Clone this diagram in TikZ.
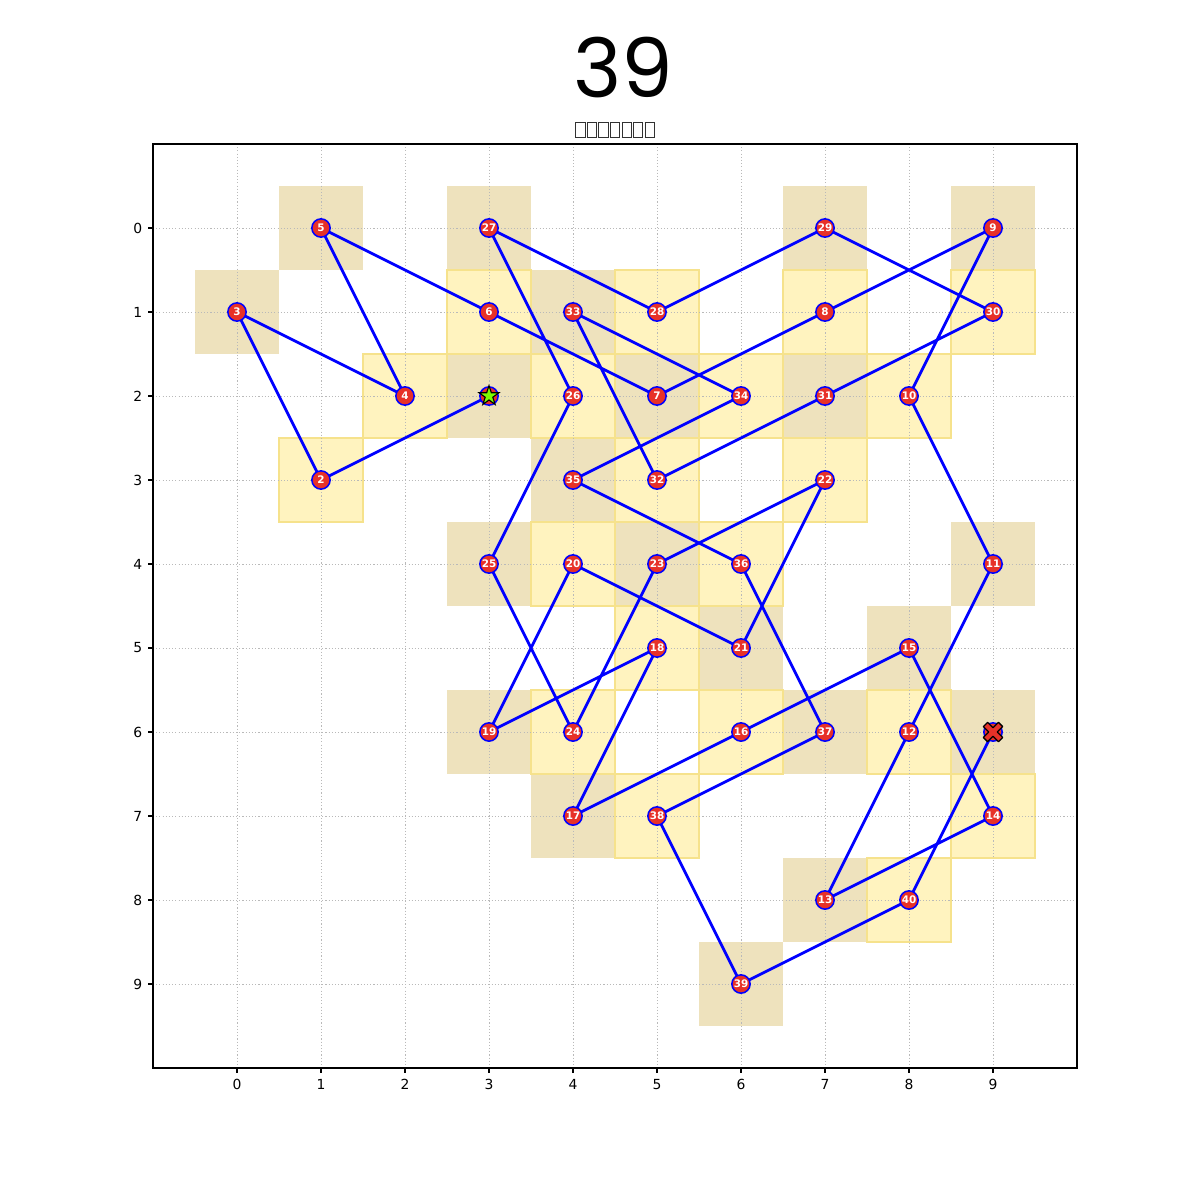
\documentclass[tikz,border=0pt]{standalone}
\usepackage{fontspec}
\usetikzlibrary{shapes.geometric}
\newfontfamily\dejavu{DejaVu Sans}
\newfontfamily\poppins{Poppins}
\definecolor{tanfill}{RGB}{238,226,189}
\definecolor{yelfill}{RGB}{255,243,191}
\definecolor{yeledge}{RGB}{246,226,140}
\definecolor{stonered}{RGB}{231,49,40}
\definecolor{tourblue}{RGB}{0,0,255}
\definecolor{startgreen}{RGB}{124,252,0}
\definecolor{gridgray}{RGB}{185,185,185}
\definecolor{tofugray}{RGB}{50,50,50}
\newcommand\tofubox{\kern0.55pt{\color{tofugray}\fboxsep=0pt\fboxrule=0.6pt\fbox{\rule{0pt}{10.3pt}\hspace{6pt}}}\kern0.55pt}
\tikzset{
  tancell/.style={fill=tanfill},
  yelcell/.style={fill=yelfill, draw=yeledge, line width=0.8pt},
  gridline/.style={draw=gridgray, line width=0.5pt, dash pattern=on 0.8pt off 1.5pt},
  tour/.style={draw=tourblue, line width=2pt, line join=round},
  stone/.style={circle, fill=stonered, draw=tourblue, line width=1.1pt, minimum size=13.2pt, inner sep=0pt,
    text=white, font=\dejavu\bfseries\fontsize{7.5}{7.5}\selectfont},
  startmark/.style={star, star points=5, star point ratio=2.618, fill=startgreen, draw=black, line width=0.8pt,
    minimum size=15pt, inner sep=0pt},
  endmark/.style={fill=stonered, draw=black, line width=0.9pt, line join=round},
  frame/.style={draw=black, line width=0.8pt},
  tickmark/.style={draw=black, line width=0.8pt},
  ticklabel/.style={inner sep=0pt, font=\dejavu\fontsize{10}{12}\selectfont},
}
\begin{document}
\begin{tikzpicture}[x=60.48pt, y=-60.48pt]
\fill[white] (-2.8214,-2.7143) rectangle (11.4643,11.5714);
\useasboundingbox (-2.8214,-2.7143) rectangle (11.4643,11.5714);

% titles
\node[anchor=base, inner sep=0pt, font=\poppins\fontsize{59}{59}\selectfont] (title) at (4.5952,-1.5595) {39};
\node[inner sep=0pt] (subtitle) at (4.5,-1.1667) {\tofubox\tofubox\tofubox\tofubox\tofubox\tofubox\tofubox};

% visited cells
\foreach \x/\y in {1/0,3/0,7/0,9/0,0/1,4/1,3/2,5/2,7/2,4/3,3/4,5/4,9/4,6/5,8/5,3/6,7/6,9/6,4/7,7/8,6/9}
  \path[tancell] (\x-0.5,\y-0.5) rectangle (\x+0.5,\y+0.5);
\foreach \x/\y in {3/1,5/1,7/1,9/1,2/2,4/2,6/2,8/2,1/3,5/3,7/3,4/4,6/4,5/5,4/6,6/6,8/6,5/7,9/7,8/8}
  \path[yelcell] (\x-0.5,\y-0.5) rectangle (\x+0.5,\y+0.5);

% grid
\foreach \i in {0,...,9} {
  \draw[gridline] (\i,-1) -- (\i,10);
  \draw[gridline] (-1,\i) -- (10,\i);
}

% tour positions
\foreach \n/\x/\y in {1/3/2,2/1/3,3/0/1,4/2/2,5/1/0,6/3/1,7/5/2,8/7/1,9/9/0,10/8/2,
  11/9/4,12/8/6,13/7/8,14/9/7,15/8/5,16/6/6,17/4/7,18/5/5,19/3/6,20/4/4,
  21/6/5,22/7/3,23/5/4,24/4/6,25/3/4,26/4/2,27/3/0,28/5/1,29/7/0,30/9/1,
  31/7/2,32/5/3,33/4/1,34/6/2,35/4/3,36/6/4,37/7/6,38/5/7,39/6/9,40/8/8,41/9/6}
  \coordinate (p\n) at (\x,\y);

\draw[tour] (p1) -- (p2) -- (p3) -- (p4) -- (p5) -- (p6) -- (p7) -- (p8) -- (p9) -- (p10)
  -- (p11) -- (p12) -- (p13) -- (p14) -- (p15) -- (p16) -- (p17) -- (p18) -- (p19) -- (p20)
  -- (p21) -- (p22) -- (p23) -- (p24) -- (p25) -- (p26) -- (p27) -- (p28) -- (p29) -- (p30)
  -- (p31) -- (p32) -- (p33) -- (p34) -- (p35) -- (p36) -- (p37) -- (p38) -- (p39) -- (p40)
  -- (p41);

\node[stone] (n1) at (p1) {};
\foreach \n in {2,...,40} \node[stone] (n\n) at (p\n) {\n};
\node[stone] (n41) at (p41) {};

% start and end markers
\node[startmark] (start) at (p1) {};
\path[endmark, shift={(p41)}] (0pt,3.11pt) -- (3.89pt,7pt) -- (7pt,3.89pt) -- (3.11pt,0pt)
  -- (7pt,-3.89pt) -- (3.89pt,-7pt) -- (0pt,-3.11pt) -- (-3.89pt,-7pt) -- (-7pt,-3.89pt)
  -- (-3.11pt,0pt) -- (-7pt,3.89pt) -- (-3.89pt,7pt) -- cycle;

% axes
\draw[frame] (-1,-1) rectangle (10,10);
\foreach \i in {0,...,9} {
  \draw[tickmark] (\i,10) -- ++(0pt,-3.5pt);
  \draw[tickmark] (-1,\i) -- ++(-3.5pt,0pt);
  \node[ticklabel, anchor=north] (xl\i) at ([yshift=-7.8pt]\i,10) {\i};
  \node[ticklabel, anchor=east] (yl\i) at ([xshift=-7.6pt]-1,\i) {\i};
}
\end{tikzpicture}
\end{document}
